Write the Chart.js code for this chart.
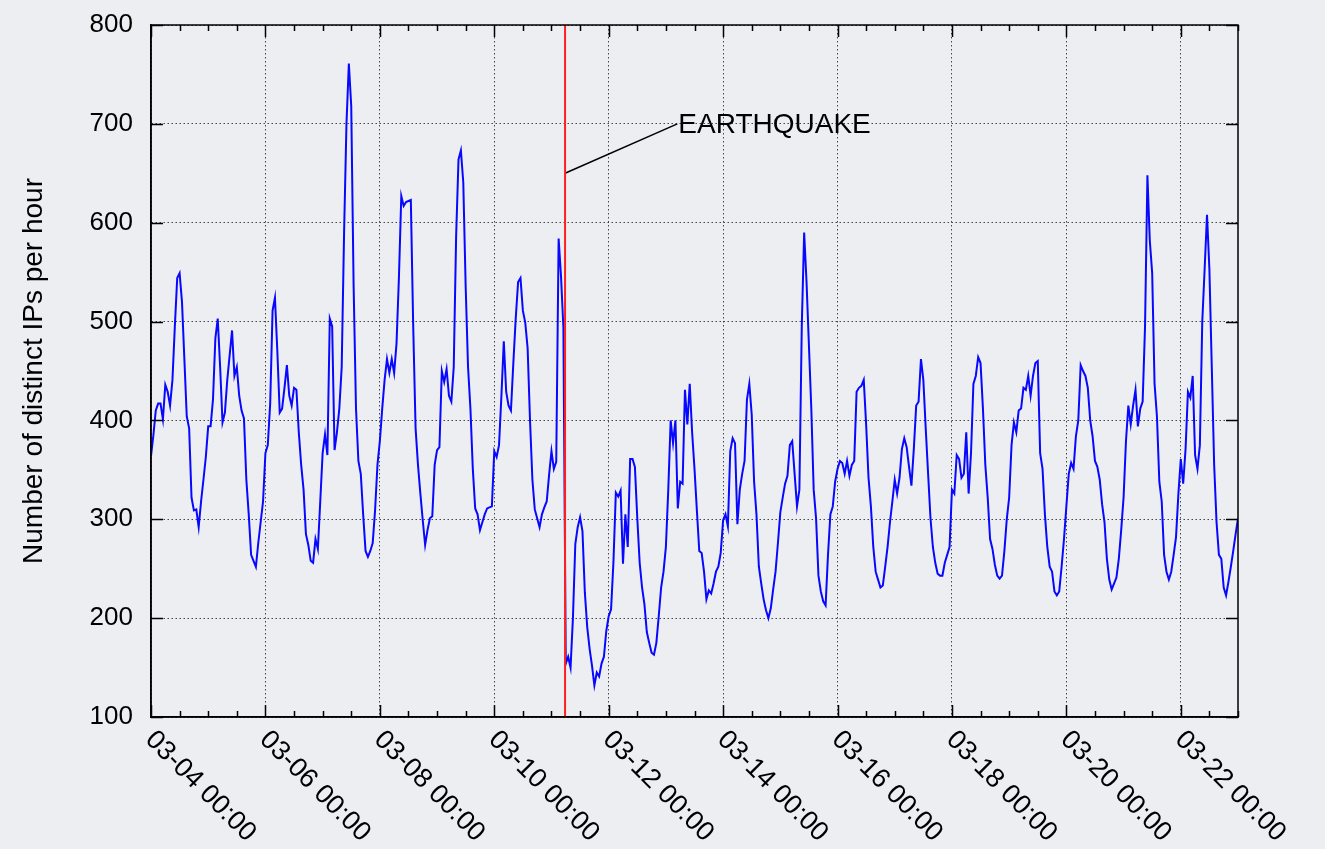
<!DOCTYPE html>
<html>
<head>
<meta charset="utf-8">
<title>Distinct IPs per hour</title>
<script src="https://cdn.jsdelivr.net/npm/chart.js@4.4.0/dist/chart.umd.min.js"></script>
<style>
  html, body { margin: 0; padding: 0; background: #edeef2; }
  #wrap { position: relative; width: 1325px; height: 849px; }
  canvas { display: block; }
</style>
</head>
<body>
<div id="wrap"><canvas id="chart" width="1325" height="849"></canvas></div>
<script>
// Hourly count of distinct IPs, starting 03-04 00:00 (one value per hour).
const hourlyDistinctIPs = [
  364, 385, 410, 417, 417, 401, 436, 429, 415, 441,
  495, 544, 549, 520, 462, 404, 392, 322, 309, 310,
  292, 318, 340, 363, 394, 394, 421, 483, 503, 454,
  398, 408, 441, 466, 491, 445, 454, 425, 410, 402,
  340, 305, 264, 258, 252, 276, 297, 318, 367, 375,
  417, 511, 524, 470, 408, 412, 433, 456, 425, 415,
  433, 431, 388, 355, 330, 285, 274, 258, 256, 280,
  270, 318, 367, 386, 365, 503, 495, 370, 388, 412,
  454, 590, 700, 761, 718, 536, 412, 359, 346, 305,
  268, 262, 268, 276, 309, 355, 379, 412, 441, 462,
  448, 462, 448, 478, 544, 627, 617, 621, 622, 623,
  495, 392, 355, 326, 299, 274, 289, 301, 303, 355,
  370, 373, 450, 439, 452, 425, 419, 454, 586, 664,
  673, 641, 536, 454, 412, 351, 311, 305, 289, 297,
  305, 311, 312, 313, 369, 363, 375, 425, 480, 429,
  415, 410, 458, 503, 540, 544, 511, 499, 473, 400,
  340, 310, 301, 292, 305, 312, 318, 345, 369, 351,
  358, 584, 546, 494, 154, 161, 150, 200, 275, 292,
  302, 288, 226, 191, 169, 152, 132, 145, 141, 154,
  161, 187, 202, 209, 257, 327, 323, 329, 255, 305,
  272, 361, 361, 353, 301, 256, 231, 214, 186, 175,
  165, 163, 175, 202, 231, 247, 272, 330, 400, 377,
  400, 311, 338, 336, 431, 396, 437, 388, 351, 309,
  268, 266, 247, 219, 228, 225, 235, 247, 252, 266,
  299, 305, 293, 369, 382, 377, 295, 330, 346, 359,
  421, 437, 406, 338, 305, 252, 235, 219, 208, 200,
  210, 229, 247, 276, 307, 322, 336, 344, 375, 379,
  346, 313, 330, 495, 590, 540, 476, 412, 330, 301,
  243, 227, 217, 213, 264, 305, 313, 338, 351, 359,
  357, 346, 359, 344, 355, 359, 429, 433, 435, 441,
  396, 342, 313, 272, 247, 239, 231, 233, 252, 272,
  297, 318, 340, 326, 342, 371, 382, 373, 353, 334,
  371, 415, 419, 462, 441, 392, 346, 301, 272, 256,
  245, 243, 243, 256, 264, 272, 330, 326, 365, 361,
  342, 346, 388, 326, 367, 437, 445, 464, 458, 412,
  355, 322, 280, 270, 254, 243, 240, 243, 268, 300,
  322, 375, 398, 388, 410, 412, 433, 431, 445, 425,
  445, 458, 460, 367, 351, 305, 272, 252, 247, 227,
  223, 227, 252, 280, 313, 346, 357, 351, 384, 400,
  456, 450, 445, 433, 400, 384, 359, 353, 340, 315,
  297, 260, 239, 229, 235, 241, 260, 289, 322, 379,
  415, 396, 415, 431, 394, 412, 419, 495, 648, 582,
  549, 437, 404, 338, 318, 264, 247, 239, 247, 264,
  282, 326, 361, 336, 371, 429, 423, 445, 365, 351,
  375, 499, 553, 608, 553, 454, 355, 297, 264, 260,
  231, 223, 237, 252, 268, 285, 301
];

// Date ticks, in hours from 03-04 00:00.
const dayTickHours  = [0, 48, 96, 144, 192, 240, 288, 336, 384, 432];
const dayTickLabels = ['03-04 00:00', '03-06 00:00', '03-08 00:00', '03-10 00:00', '03-12 00:00',
                       '03-14 00:00', '03-16 00:00', '03-18 00:00', '03-20 00:00', '03-22 00:00'];
const axisEndHour = 456;            // 03-23 00:00
const minorTickStepHours = 12;

const yTickValues = [100, 200, 300, 400, 500, 600, 700, 800];
const yAxisTitle = 'Number of distinct IPs per hour';

// Earthquake marker (hour of 03-11 05:46) and its annotation.
const quakeHour = 173.7;
const quakeLabel = 'EARTHQUAKE';
const quakeLeaderFrom = { x: quakeHour, y: 650 };
const quakeLeaderTo   = { x: 220.8, y: 700 };

const FONT = '"Liberation Sans", Arial, Helvetica, sans-serif';
const MAJOR_TICK = 12, MINOR_TICK = 6;

// Inward ticks on all four sides, closed frame, slanted date labels and the annotation text.
const gnuplotFrame = {
  id: 'gnuplotFrame',
  afterDraw(chart) {
    const { ctx, chartArea: a, scales: { x, y } } = chart;
    ctx.save();
    ctx.strokeStyle = '#000';
    ctx.lineWidth = 1.5;
    ctx.strokeRect(a.left, a.top, a.right - a.left, a.bottom - a.top);

    ctx.beginPath();
    yTickValues.forEach(v => {
      const py = Math.round(y.getPixelForValue(v)) + 0.5;
      ctx.moveTo(a.left, py);  ctx.lineTo(a.left + MAJOR_TICK, py);
      ctx.moveTo(a.right, py); ctx.lineTo(a.right - MAJOR_TICK, py);
    });
    for (let h = 0; h <= axisEndHour; h += minorTickStepHours) {
      const len = dayTickHours.includes(h) ? MAJOR_TICK : MINOR_TICK;
      const px = Math.round(x.getPixelForValue(h)) + 0.5;
      ctx.moveTo(px, a.bottom); ctx.lineTo(px, a.bottom - len);
      ctx.moveTo(px, a.top);    ctx.lineTo(px, a.top + len);
    }
    ctx.stroke();

    ctx.fillStyle = '#000';
    ctx.font = '27px ' + FONT;
    ctx.textAlign = 'left';
    ctx.textBaseline = 'top';
    dayTickHours.forEach((h, i) => {
      const px = x.getPixelForValue(h);
      ctx.save();
      ctx.translate(px + 8, a.bottom + 9);
      ctx.rotate(Math.PI / 4);
      ctx.fillText(dayTickLabels[i], 0, 0);
      ctx.restore();
    });

    ctx.font = '28px ' + FONT;
    ctx.textBaseline = 'middle';
    ctx.fillText(quakeLabel, x.getPixelForValue(quakeLeaderTo.x) + 1, y.getPixelForValue(quakeLeaderTo.y) + 1);
    ctx.restore();
  }
};

const gridStyle = { color: 'rgba(40,40,40,0.85)', lineWidth: 1, drawTicks: false };

new Chart(document.getElementById('chart'), {
  type: 'line',
  data: {
    datasets: [
      {
        label: 'earthquake',
        data: [{ x: quakeHour, y: 100 }, { x: quakeHour, y: 800 }],
        borderColor: '#ff1f1f',
        borderWidth: 2,
        pointRadius: 0
      },
      {
        label: 'leader',
        data: [quakeLeaderFrom, quakeLeaderTo],
        borderColor: '#000',
        borderWidth: 1.5,
        pointRadius: 0
      },
      {
        label: 'distinct IPs',
        data: hourlyDistinctIPs.map((v, i) => ({ x: i, y: v })),
        borderColor: '#0808ff',
        borderWidth: 2,
        pointRadius: 0,
        tension: 0
      }
    ]
  },
  options: {
    responsive: false,
    animation: false,
    devicePixelRatio: 1,
    layout: { padding: { left: 0, right: 87, top: 25, bottom: 0 } },
    plugins: { legend: { display: false }, tooltip: { enabled: false } },
    scales: {
      x: {
        type: 'linear',
        min: 0,
        max: axisEndHour,
        afterFit(scale) { scale.height = 132; scale.paddingLeft = 0; scale.paddingRight = 0; },
        afterBuildTicks(scale) { scale.ticks = dayTickHours.map(value => ({ value })); },
        ticks: { display: false },
        grid: gridStyle,
        border: { display: true, color: '#000', width: 1.5, dash: [1.5, 2.5] }
      },
      y: {
        min: 100,
        max: 800,
        afterFit(scale) { scale.width = 151; scale.paddingTop = 0; scale.paddingBottom = 0; },
        ticks: {
          stepSize: 100,
          padding: 18,
          color: '#000',
          font: { family: FONT, size: 26 }
        },
        grid: gridStyle,
        border: { display: true, color: '#000', width: 1.5, dash: [1.5, 2.5] },
        title: {
          display: true,
          text: yAxisTitle,
          color: '#000',
          font: { family: FONT, size: 28 },
          padding: { top: 17, bottom: 0 }
        }
      }
    }
  },
  plugins: [gnuplotFrame]
});
</script>
</body>
</html>
